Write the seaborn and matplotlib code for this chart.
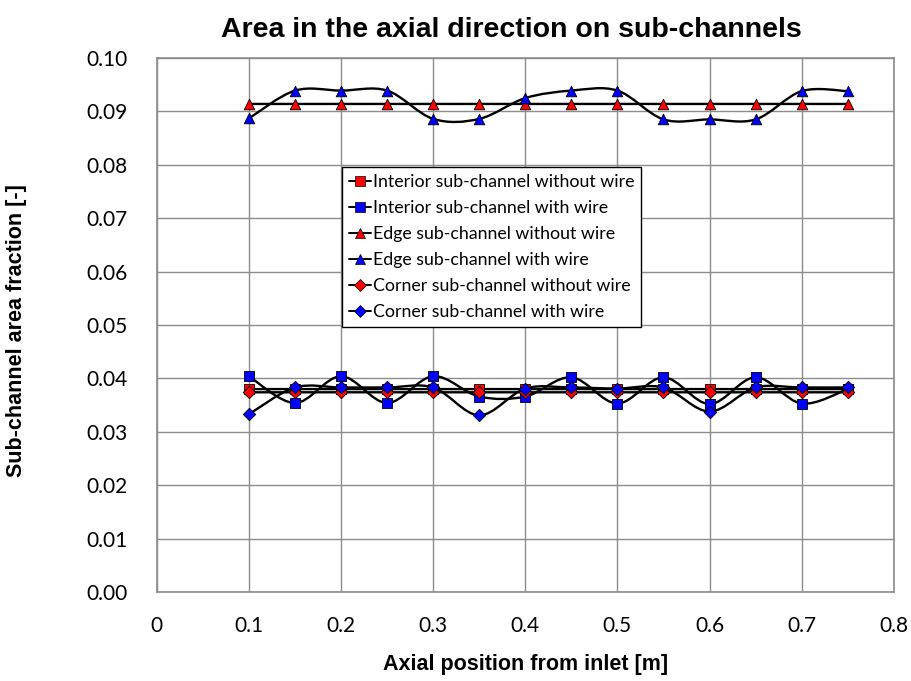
import numpy as np
import pandas as pd
import matplotlib
matplotlib.use("Agg")
import matplotlib.pyplot as plt
import seaborn as sns
from matplotlib.path import Path
from matplotlib.patches import PathPatch
from matplotlib.lines import Line2D

# ---------------- data ----------------
axial_pos = [0.10, 0.15, 0.20, 0.25, 0.30, 0.35, 0.40, 0.45, 0.50, 0.55, 0.60, 0.65, 0.70, 0.75]

interior_no_wire = [0.0380] * 14
interior_wire = [0.0404, 0.0354, 0.0404, 0.0354, 0.0404, 0.0366, 0.0366,
                 0.0402, 0.0353, 0.0402, 0.0352, 0.0402, 0.0353, 0.0380]
edge_no_wire = [0.0914] * 14
edge_wire = [0.0887, 0.0939, 0.0939, 0.0939, 0.0886, 0.0886, 0.0925,
             0.0939, 0.0939, 0.0885, 0.0885, 0.0885, 0.0938, 0.0938]
corner_no_wire = [0.0374] * 14
corner_wire = [0.0333, 0.0383, 0.0383, 0.0383, 0.0383, 0.0331, 0.0381,
               0.0383, 0.0381, 0.0383, 0.0338, 0.0383, 0.0383, 0.0383]

series_names = ["Interior sub-channel without wire", "Interior sub-channel with wire",
                "Edge sub-channel without wire", "Edge sub-channel with wire",
                "Corner sub-channel without wire", "Corner sub-channel with wire"]
series_values = [interior_no_wire, interior_wire, edge_no_wire, edge_wire,
                 corner_no_wire, corner_wire]
series_markers = ["s", "s", "^", "^", "D", "D"]
series_colors = ["#ff0000", "#0000ff", "#ff0000", "#0000ff", "#ff0000", "#0000ff"]
series_sizes = [62, 62, 58, 58, 40, 40]

x_ticks = [0, 0.1, 0.2, 0.3, 0.4, 0.5, 0.6, 0.7, 0.8]
x_tick_labels = ["0", "0.1", "0.2", "0.3", "0.4", "0.5", "0.6", "0.7", "0.8"]
y_ticks = [0.00, 0.01, 0.02, 0.03, 0.04, 0.05, 0.06, 0.07, 0.08, 0.09, 0.10]
y_tick_labels = ["0.00", "0.01", "0.02", "0.03", "0.04", "0.05", "0.06", "0.07", "0.08", "0.09", "0.10"]

# ---------------- style ----------------
sns.set_theme(style="white")
plt.rcParams["font.family"] = ["Lato", "DejaVu Sans"]
plt.rcParams["text.color"] = "black"
plt.rcParams["axes.labelcolor"] = "black"

fig = plt.figure(figsize=(9.12, 6.81), dpi=100)
ax = fig.add_axes([0.172, 0.1307, 0.808, 0.7841])


def smooth_path(xs, ys):
    """Excel-like smoothed line (Catmull-Rom Bezier) through the data points."""
    pts = np.column_stack([xs, ys])
    n = len(pts)
    verts = [pts[0]]
    codes = [Path.MOVETO]
    for i in range(n - 1):
        p0 = pts[i - 1] if i > 0 else pts[i]
        p1 = pts[i]
        p2 = pts[i + 1]
        p3 = pts[i + 2] if i + 2 < n else pts[i + 1]
        c1 = p1 + (p2 - p0) / 6.0
        c2 = p2 - (p3 - p1) / 6.0
        verts += [c1, c2, p2]
        codes += [Path.CURVE4] * 3
    return Path(np.array(verts), codes)


for name, vals in zip(series_names, series_values):
    patch = PathPatch(smooth_path(axial_pos, vals), facecolor="none",
                      edgecolor="black", lw=1.7, zorder=3)
    ax.add_patch(patch)

for name, vals, mk, col, sz in zip(series_names, series_values, series_markers,
                                   series_colors, series_sizes):
    df = pd.DataFrame({"x": axial_pos, "y": vals})
    sns.scatterplot(data=df, x="x", y="y", marker=mk, color=col, s=sz,
                    edgecolor="black", linewidth=0.6, ax=ax, zorder=4)

ax.set_xlim(0, 0.8)
ax.set_ylim(0, 0.10)
ax.set_xticks(x_ticks)
ax.set_xticklabels(x_tick_labels)
ax.set_yticks(y_ticks)
ax.set_yticklabels(y_tick_labels)
ax.tick_params(axis="both", labelsize=15, length=0, colors="black")
ax.tick_params(axis="x", pad=17)
ax.tick_params(axis="y", pad=21)
ax.grid(True, color="#8c8c8c", linewidth=1.0)
ax.set_axisbelow(True)
for sp in ax.spines.values():
    sp.set_color("#8c8c8c")
    sp.set_linewidth(1.2)

ax.set_xlabel("Axial position from inlet [m]", fontsize=15.5, fontweight="bold",
              family=["Liberation Sans", "DejaVu Sans"], color="black")
ax.set_ylabel("Sub-channel area fraction [-]", fontsize=15.5, fontweight="bold",
              family=["Liberation Sans", "DejaVu Sans"], color="black")
ax.xaxis.set_label_coords(0.5, -0.116)
ax.yaxis.set_label_coords(-0.176, 0.49)
fig.text(511 / 912, 1 - 30 / 681, "Area in the axial direction on sub-channels", ha="center",
         va="center", fontsize=20.5, fontweight="bold", color="black",
         family=["Liberation Sans", "DejaVu Sans"])

handles = [Line2D([0], [0], color="black", lw=1.4, marker=mk, markerfacecolor=col,
                  markeredgecolor="black", markeredgewidth=0.5,
                  markersize=(7 if mk == "s" else 7.5 if mk == "^" else 6))
           for mk, col in zip(series_markers, series_colors)]
leg = ax.legend(handles, series_names, loc="upper left",
                bbox_to_anchor=(342 / 912, 1 - 167 / 681),
                bbox_transform=fig.transFigure, fontsize=12.8, frameon=True,
                fancybox=False, edgecolor="black", framealpha=1,
                handlelength=1.25, handletextpad=0.08, borderpad=0.4,
                labelspacing=0.56, borderaxespad=0)
leg.get_frame().set_linewidth(1.0)
for t in leg.get_texts():
    t.set_color("black")

fig.savefig("out.png", dpi=100)
